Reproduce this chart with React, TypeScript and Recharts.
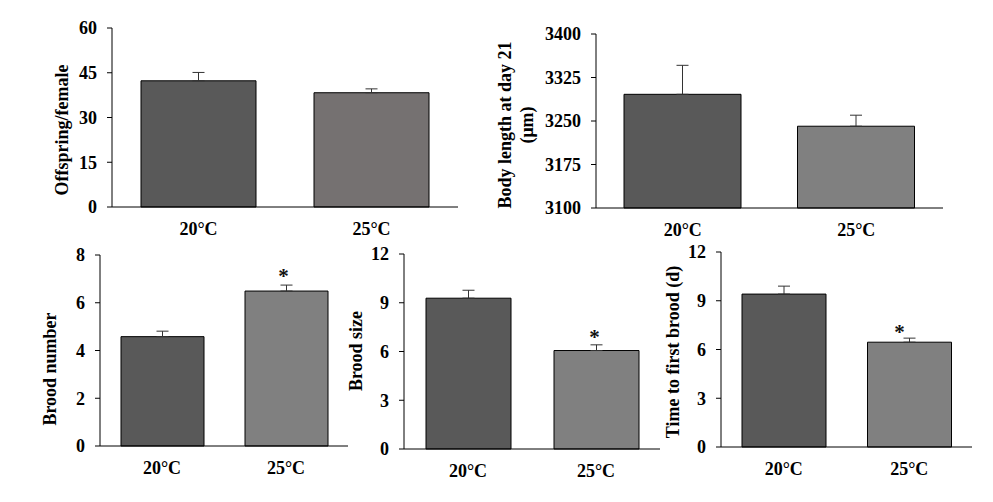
import React from 'react';
import { BarChart, Bar, XAxis, YAxis, ErrorBar, Cell, LabelList } from 'recharts';

const temps = ['20°C', '25°C'];

const offspring = [42.3, 38.3];
const offspringErr = [2.8, 1.3];
const offspringTicks = [0, 15, 30, 45, 60];

const bodyLength = [3296, 3241];
const bodyLengthErr = [50, 19];
const bodyLengthTicks = [3100, 3175, 3250, 3325, 3400];

const broodNumber = [4.58, 6.49];
const broodNumberErr = [0.23, 0.25];
const broodNumberTicks = [0, 2, 4, 6, 8];

const broodSize = [9.28, 6.06];
const broodSizeErr = [0.49, 0.35];

const firstBrood = [9.41, 6.45];
const firstBroodErr = [0.49, 0.25];
const twelveTicks = [0, 3, 6, 9, 12];

const significance = ['', '*'];

const FONT = "'Liberation Serif', 'Times New Roman', serif";
const DARK = '#595959';

interface PanelProps {
  values: number[];
  errors: number[];
  stars?: string[];
  ticks: number[];
  axisX: number;
  plotTop: number;
  plotBottom: number;
  plotRight: number;
  barSize: number;
  fills: string[];
  title: string[];
  titleX: number[];
  titleY: number;
  starDx?: number;
  starOff?: number;
}

function Panel(p: PanelProps) {
  const left = p.axisX - 100;
  const top = p.plotTop - 12;
  const width = p.plotRight - left + 2;
  const height = p.plotBottom - top + 45;
  const data = temps.map((t, i) => ({
    name: t,
    value: p.values[i],
    err: [0, p.errors[i]],
    star: p.stars ? p.stars[i] : '',
  }));
  const tickStyle = { fontSize: 18, fontWeight: 'bold' as const, fill: '#000', fontFamily: FONT };

  const renderTitle = () => (
    <g>
      {p.title.map((line, i) => {
        const lx = p.titleX[i] - left;
        const ly = p.titleY - top;
        return (
          <text
            key={i}
            x={lx}
            y={ly}
            transform={`rotate(-90, ${lx}, ${ly})`}
            textAnchor="middle"
            dominantBaseline="central"
            style={tickStyle}
          >
            {line}
          </text>
        );
      })}
    </g>
  );

  // asterisk above the significant bar
  const renderStar = (props: any) => {
    const { x, y, width: w, value } = props;
    if (!value) return null;
    return (
      <text
        x={Number(x) + Number(w) / 2 + (p.starDx ?? 0)}
        y={Number(y) - (p.starOff ?? 8)}
        textAnchor="middle"
        style={{ fontSize: 21, fontWeight: 'bold', fill: '#111', fontFamily: FONT }}
      >
        {value}
      </text>
    );
  };

  return (
    <div style={{ position: 'absolute', left, top }}>
      <BarChart width={width} height={height} data={data} margin={{ top: 12, right: 2, left: 0, bottom: 5 }}>
        <XAxis
          dataKey="name"
          height={40}
          tickLine={false}
          tickSize={0}
          tickMargin={15}
          axisLine={{ stroke: '#000', strokeWidth: 1 }}
          tick={tickStyle}
        />
        <YAxis
          width={100}
          domain={[p.ticks[0], p.ticks[p.ticks.length - 1]]}
          ticks={p.ticks}
          interval={0}
          tickSize={5}
          tickMargin={10}
          axisLine={{ stroke: '#000', strokeWidth: 1 }}
          tickLine={{ stroke: '#000', strokeWidth: 1 }}
          tick={tickStyle}
          label={renderTitle}
        />
        <Bar dataKey="value" barSize={p.barSize} stroke="#000" strokeWidth={1} isAnimationActive={false}>
          {data.map((d, i) => (
            <Cell key={i} fill={p.fills[i]} />
          ))}
          <ErrorBar dataKey="err" width={6} stroke="#333" strokeWidth={1} direction="y" />
          {p.stars && <LabelList dataKey="star" content={renderStar} />}
        </Bar>
      </BarChart>
    </div>
  );
}

export default function App() {
  return (
    <div style={{ position: 'absolute', left: 0, top: 0, width: 993, height: 502, background: '#fff', overflow: 'hidden' }}>
      <Panel
        values={offspring}
        errors={offspringErr}
        ticks={offspringTicks}
        axisX={112}
        plotTop={28}
        plotBottom={207}
        plotRight={458}
        barSize={115}
        fills={[DARK, '#757171']}
        title={['Offspring/female']}
        titleX={[62]}
        titleY={130}
      />
      <Panel
        values={bodyLength}
        errors={bodyLengthErr}
        ticks={bodyLengthTicks}
        axisX={596}
        plotTop={34}
        plotBottom={208}
        plotRight={943}
        barSize={117}
        fills={[DARK, '#808080']}
        title={['Body length at day 21', '(μm)']}
        titleX={[505, 527]}
        titleY={125}
      />
      <Panel
        values={broodNumber}
        errors={broodNumberErr}
        stars={significance}
        ticks={broodNumberTicks}
        axisX={100}
        plotTop={255}
        plotBottom={446}
        plotRight={348}
        barSize={83}
        fills={[DARK, '#808080']}
        title={['Brood number']}
        titleX={[50]}
        titleY={369}
        starDx={-3}
        starOff={8}
      />
      <Panel
        values={broodSize}
        errors={broodSizeErr}
        stars={significance}
        ticks={twelveTicks}
        axisX={404}
        plotTop={254}
        plotBottom={449}
        plotRight={660}
        barSize={85}
        fills={[DARK, '#808080']}
        title={['Brood size']}
        titleX={[356]}
        titleY={351}
        starDx={-2}
        starOff={7}
      />
      <Panel
        values={firstBrood}
        errors={firstBroodErr}
        stars={significance}
        ticks={twelveTicks}
        axisX={721}
        plotTop={252}
        plotBottom={447}
        plotRight={972}
        barSize={84}
        fills={[DARK, '#808080']}
        title={['Time to first brood (d)']}
        titleX={[673]}
        titleY={352}
        starDx={-10}
        starOff={3}
      />
    </div>
  );
}
